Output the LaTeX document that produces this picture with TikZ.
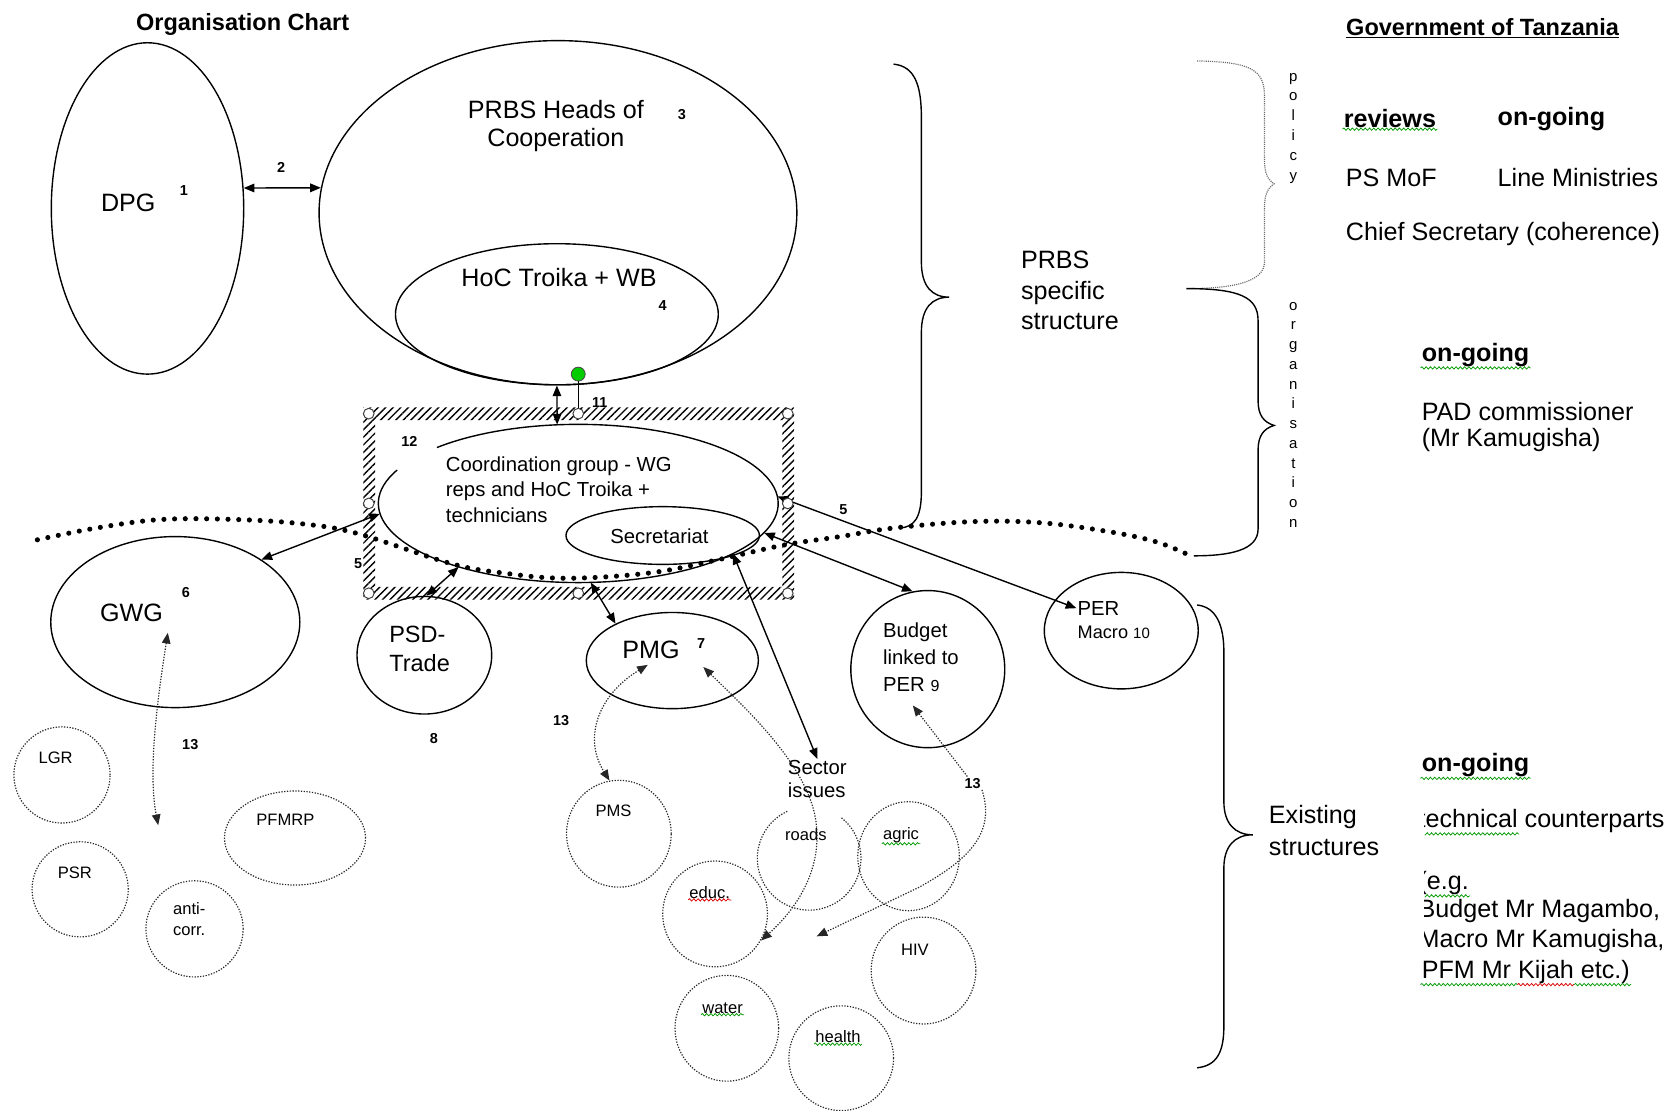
\documentclass[tikz,border=0pt]{standalone}
\usepackage{fontspec}
\setmainfont{Liberation Sans}
\usepackage{tikz}
\usetikzlibrary{arrows.meta, calc, shapes.geometric, patterns.meta, decorations.pathmorphing}

\newcommand\fsbig{\fontsize{23.5}{28}\selectfont}
\newcommand\fsmid{\fontsize{19}{24}\selectfont}
\newcommand\fssmall{\fontsize{15.5}{20}\selectfont}
\newcommand\fsnum{\bfseries\fontsize{13.5}{15}\selectfont}

\tikzset{
    bub/.style={draw, ellipse, line width=1.3pt, inner sep=0pt},
    dotbub/.style={draw=black!85, ellipse, line width=1.1pt, dash pattern=on 1.2pt off 1.4pt, inner sep=0pt},
    dotline/.style={draw=black!85, line width=1.1pt, dash pattern=on 1.2pt off 1.4pt},
    headtips/.style={arrows={Triangle[length=10pt, width=8pt]-Triangle[length=10pt, width=8pt]}},
    twoway/.style={draw, line width=1.3pt, headtips},
    dotway/.style={dotline, headtips},
    brace/.style={draw, line width=1.3pt},
    dotbrace/.style={draw=black!60, line width=1.1pt, dash pattern=on 1pt off 1pt},
    bigdots/.style={draw, line width=4.8pt, line cap=round, dash pattern=on 0pt off 10pt},
    grip/.style={circle, draw=black!75, fill=white, line width=0.9pt, minimum size=10pt, inner sep=0pt},
    lbl/.style={inner sep=1pt, font=\fsbig},
    boldlbl/.style={inner sep=1pt, font=\bfseries\fsbig},
    midtxt/.style={inner sep=1pt, font=\fsmid},
    smalltxt/.style={inner sep=1pt, font=\fssmall, align=center},
    numtxt/.style={inner sep=1pt, font=\fsnum},
    squig/.style={draw=green!60!black, line width=0.7pt, decorate, decoration={snake, amplitude=1.1pt, segment length=4pt}},
    squigred/.style={squig, draw=red!85!black}
}

\begin{document}
\begin{tikzpicture}[x=1pt, y=1pt]
        \useasboundingbox (0, 0) rectangle (1568, -1039);
        \node [boldlbl, font=\bfseries\fontsize{22}{26}\selectfont] (title) at (227, -23) {Organisation Chart};
        \node [boldlbl, font=\bfseries\fontsize{22}{26}\selectfont] (gov) at (1387, -26) {\underline{Government of Tanzania}};
        \fill [pattern={Lines[angle=45, distance=5pt, line width=1.3pt]}, even odd rule]
            (340, -381) rectangle (743, -561) (351, -393) rectangle (732, -549);
        \node [bub, minimum width=180pt, minimum height=310pt] (dpg) at (138, -195) {};
        \node [bub, minimum width=447pt, minimum height=322pt] (prbs) at (522, -199) {};
        \node [bub, minimum width=302pt, minimum height=132pt] (hoc) at (521, -294) {};
        \node [ellipse, inner sep=0pt, minimum width=374pt, minimum height=148pt] (coord) at (541, -471) {};
        \draw [line width=1.3pt] (coord.center) ++(155:187 and 74)
            arc [start angle=155, end angle=495, x radius=187, y radius=74];
        \node [bub, minimum width=181pt, minimum height=54pt] (sec) at (620, -501) {};
        \node [bub, minimum width=233pt, minimum height=160pt] (gwg) at (164, -582) {};
        \node [bub, minimum width=126pt, minimum height=110pt] (psd) at (397, -613) {};
        \node [bub, minimum width=161pt, minimum height=90pt] (pmg) at (629, -618) {};
        \node [bub, minimum width=144pt, minimum height=147pt] (budget) at (868, -626) {};
        \node [bub, minimum width=144pt, minimum height=109pt] (per) at (1049, -590) {};
        \node [dotbub, minimum width=90pt, minimum height=90pt] (lgr) at (58, -725) {};
        \node [dotbub, minimum width=90pt, minimum height=89pt] (psr) at (75, -832) {};
        \node [dotbub, minimum width=91pt, minimum height=90pt] (anti) at (182, -869) {};
        \node [dotbub, minimum width=132pt, minimum height=88pt] (pfmrp) at (276, -784) {};
        \node [dotbub, minimum width=98pt, minimum height=100pt] (pms) at (579, -780) {};
        \node [ellipse, inner sep=0pt, minimum width=97pt, minimum height=97pt] (roads) at (757, -803) {};
        \draw [dotline] (roads.center) ++(115:48.5) arc [start angle=115, end angle=412, radius=48.5];
        \node [dotbub, minimum width=95pt, minimum height=102pt] (agric) at (850, -801) {};
        \node [dotbub, minimum width=98pt, minimum height=99pt] (educ) at (669, -855) {};
        \node [dotbub, minimum width=98pt, minimum height=100pt] (hiv) at (864, -908) {};
        \node [dotbub, minimum width=97pt, minimum height=99pt] (water) at (680, -962) {};
        \node [dotbub, minimum width=98pt, minimum height=98pt] (health) at (787, -990) {};
        \node [lbl] (dpgtxt) at (120, -190) {DPG};
        \node [numtxt] (n1) at (172, -178) {1};
        \node [numtxt] (n2) at (263, -157) {2};
        \node [lbl, align=center, font=\fontsize{23.5}{26}\selectfont] (prbstxt) at (520, -118) {PRBS Heads of\\Cooperation};
        \node [numtxt] (n3) at (638, -107) {3};
        \node [lbl] (hoctxt) at (523, -260) {HoC Troika + WB};
        \node [numtxt] (n4) at (620, -286) {4};
        \node [numtxt] (n11) at (561, -377) {11};
        \node [numtxt] (n12) at (383, -413) {12};
        \node [midtxt, anchor=west, align=left] (coordtxt) at (416, -458) {Coordination group - WG\\reps and HoC Troika +\\technicians};
        \node [midtxt] (sectxt) at (617, -502) {Secretariat};
        \node [lbl] (gwgtxt) at (123, -573) {GWG};
        \node [numtxt] (n6) at (174, -554) {6};
        \node [numtxt] (n5a) at (335, -527) {5};
        \node [lbl, anchor=west, align=left, font=\fontsize{22}{27}\selectfont] (psdtxt) at (363, -607) {PSD-\\Trade};
        \node [numtxt] (n8) at (406, -691) {8};
        \node [lbl] (pmgtxt) at (609, -608) {PMG};
        \node [numtxt] (n7) at (656, -602) {7};
        \node [midtxt, anchor=west, align=left, font=\fontsize{19}{25}\selectfont] (budtxt) at (825, -615)
            {Budget\\linked to\\PER {\fontsize{15}{18}\selectfont 9}};
        \node [midtxt, anchor=west] (pertxt) at (1007, -569) {PER};
        \node [anchor=west, inner sep=1pt, font=\fontsize{17}{20}\selectfont] (macrotxt) at (1007, -592)
            {Macro {\fontsize{14}{16}\selectfont 10}};
        \node [numtxt] (n5b) at (789, -477) {5};
        \node [midtxt, anchor=west, align=left, font=\fontsize{19}{22}\selectfont] (sector) at (736, -729) {Sector\\issues};
        \node [numtxt] (n13a) at (178, -697) {13};
        \node [numtxt] (n13b) at (525, -674) {13};
        \node [numtxt] (n13c) at (910, -733) {13};
        \node [smalltxt] (lgrtxt) at (52, -709) {LGR};
        \node [smalltxt] (psrtxt) at (70, -817) {PSR};
        \node [smalltxt] (antitxt) at (177, -860) {anti-\\corr.};
        \node [smalltxt] (pfmrptxt) at (267, -767) {PFMRP};
        \node [smalltxt] (pmstxt) at (574, -759) {PMS};
        \node [smalltxt] (roadstxt) at (754, -781) {roads};
        \node [smalltxt] (agrictxt) at (843, -781) {agric};
        \node [smalltxt] (eductxt) at (664, -835) {educ.};
        \node [smalltxt] (hivtxt) at (856, -889) {HIV};
        \node [smalltxt] (watertxt) at (676, -943) {water};
        \node [smalltxt] (healthtxt) at (784, -970) {health};
        \draw [squig] (agrictxt.south west) -- (agrictxt.south east);
        \draw [squigred] (eductxt.south west) -- (eductxt.south east);
        \draw [squig] (watertxt.south west) -- (watertxt.south east);
        \draw [squig] (healthtxt.south west) -- (healthtxt.south east);
        \draw [twoway] (dpg.12) -- (prbs.174);
        \draw [twoway] (hoc.south) -- (coord.105);
        \draw [twoway] (gwg.36) -- (coord.183);
        \draw [twoway] (psd.88) -- (coord.208);
        \draw [twoway] (coord.279) -- (pmg.147);
        \draw [twoway] (coord.-18) -- (sector.north);
        \draw [twoway] (coord.-9) -- (budget.101);
        \draw [twoway] (coord.2) -- (pertxt.west);
        \coordinate (gwgin) at (157, -592);
        \coordinate (gwgout) at (148, -772);
        \coordinate (pmgin) at (606, -622);
        \coordinate (pmgin2) at (658, -624);
        \coordinate (budin) at (854, -660);
        \coordinate (loose) at (764, -876);
        \draw [dotway] (gwgin) .. controls (148, -650) and (138, -720) .. (gwgout);
        \draw [dotway] (pmgin) .. controls (560, -650) and (545, -690) .. (pms.100);
        \draw [dotway] (pmgin2) .. controls (700, -665) and (760, -720) .. (764, -774)
            .. controls (768, -820) and (740, -855) .. (educ.-30);
        \draw [dotline, arrows={Triangle[length=10pt, width=8pt]-}] (budin) -- (n13c);
        \draw [dotline, arrows={-Triangle[length=10pt, width=8pt]}] (n13c.south east)
            .. controls (932, -780) and (905, -805) .. (860, -830) -- (loose);
        \draw [bigdots] plot [smooth, tension=0.6] coordinates {(35, -505) (90, -494) (151, -486) (220, -486)
            (282, -490) (334, -499) (421, -527) (470, -536) (530, -541) (608, -536) (670, -524) (733, -510)
            (786, -502) (836, -494) (910, -488) (973, -489) (1035, -497) (1082, -507) (1116, -521)};
        \foreach \hx/\hy [count=\i] in {345/-387, 541/-387, 737/-387, 345/-471, 737/-471, 345/-555, 541/-555, 737/-555}
            \node [grip] (h\i) at (\hx, \hy) {};
        \node [circle, draw=black!70, fill=green!80!black, line width=0.8pt, minimum size=13pt, inner sep=0pt] (turn) at (541, -350) {};
        \draw [line width=1.3pt] (turn) -- (h2);
        \draw [brace] (836, -60) .. controls (856, -62) and (862, -80) .. (862, -110) -- (862, -245)
            .. controls (862, -268) and (872, -278) .. (888, -278) .. controls (872, -278) and (862, -288) .. (862, -311)
            -- (862, -460) .. controls (862, -485) and (855, -493) .. (842, -494);
        \draw [dotbrace] (1120, -57) .. controls (1170, -58) and (1183, -65) .. (1183, -90) -- (1183, -150)
            .. controls (1183, -162) and (1186, -168) .. (1192, -172) .. controls (1186, -176) and (1183, -182) .. (1183, -194)
            -- (1183, -245) .. controls (1183, -265) and (1150, -270) .. (1110, -270);
        \draw [brace] (1110, -270) .. controls (1160, -270) and (1177, -278) .. (1177, -300) -- (1177, -375)
            .. controls (1177, -388) and (1182, -395) .. (1192, -398) .. controls (1182, -401) and (1177, -408) .. (1177, -421)
            -- (1177, -495) .. controls (1177, -515) and (1150, -520) .. (1117, -520);
        \draw [brace] (1120, -566) .. controls (1138, -568) and (1145, -585) .. (1145, -610) -- (1145, -750)
            .. controls (1145, -770) and (1155, -781) .. (1172, -781) .. controls (1155, -781) and (1145, -792) .. (1145, -812)
            -- (1145, -960) .. controls (1145, -985) and (1138, -997) .. (1120, -999);
        \node [font=\fontsize{14}{18.6}\selectfont, align=center, inner sep=0pt] (policy) at (1210, -120) {p\\o\\l\\i\\c\\y};
        \node [font=\fontsize{14}{18.5}\selectfont, align=center, inner sep=0pt] (organ) at (1210, -388) {o\\r\\g\\a\\n\\i\\s\\a\\t\\i\\o\\n};
        \node [lbl, anchor=west, align=left, font=\fontsize{23.5}{28.5}\selectfont] (prbsspec) at (954, -272) {PRBS\\specific\\structure};
        \node [lbl, anchor=west, align=left, font=\fontsize{23.5}{30}\selectfont] (exist) at (1186, -777) {Existing\\structures};
        \node [boldlbl, anchor=west] (rev) at (1256, -111) {reviews};
        \node [boldlbl, anchor=west] (ongo1) at (1400, -111) {on-going};
        \node [lbl, anchor=west] (psmof) at (1258, -166) {PS MoF};
        \node [lbl, anchor=west] (linemin) at (1400, -166) {Line Ministries};
        \node [lbl, anchor=west] (chief) at (1258, -219) {Chief Secretary (coherence)};
        \node [boldlbl, anchor=west] (ongo2) at (1329, -332) {on-going};
        \node [lbl, anchor=west] (pad) at (1329, -385) {PAD commissioner};
        \node [lbl, anchor=west] (kamu) at (1329, -412) {(Mr Kamugisha)};
        \node [boldlbl, anchor=west] (ongo3) at (1329, -716) {on-going};
        \draw [squig] (rev.south west) -- (rev.south east);
        \draw [squig] (ongo2.south west) -- (ongo2.south east);
        \draw [squig] (ongo3.south west) -- (ongo3.south east);
        \begin{scope}
            \clip (1333, -740) rectangle (1568, -895);
            \node [lbl, anchor=west] (techc) at (1326, -768) {technical counterparts};
            \node [lbl, anchor=west] (egtxt) at (1326, -826) {(e.g.};
            \node [lbl, anchor=west] (magtxt) at (1326, -852) {Budget Mr Magambo,};
            \node [lbl, anchor=west] (mactxt) at (1326, -880) {Macro Mr Kamugisha,};
            \draw [squig] (techc.south west) -- ($(techc.south west)!0.41!(techc.south east)$);
            \draw [squig] (egtxt.south west) -- (egtxt.south east);
        \end{scope}
        \node [lbl, anchor=west] (pfm) at (1329, -909) {PFM Mr Kijah etc.)};
        \draw [squig] (pfm.south west) -- ($(pfm.south west)!0.46!(pfm.south east)$);
        \draw [squigred] ($(pfm.south west)!0.46!(pfm.south east)$) -- ($(pfm.south west)!0.73!(pfm.south east)$);
        \draw [squig] ($(pfm.south west)!0.73!(pfm.south east)$) -- (pfm.south east);
    \end{tikzpicture}
\end{document}
